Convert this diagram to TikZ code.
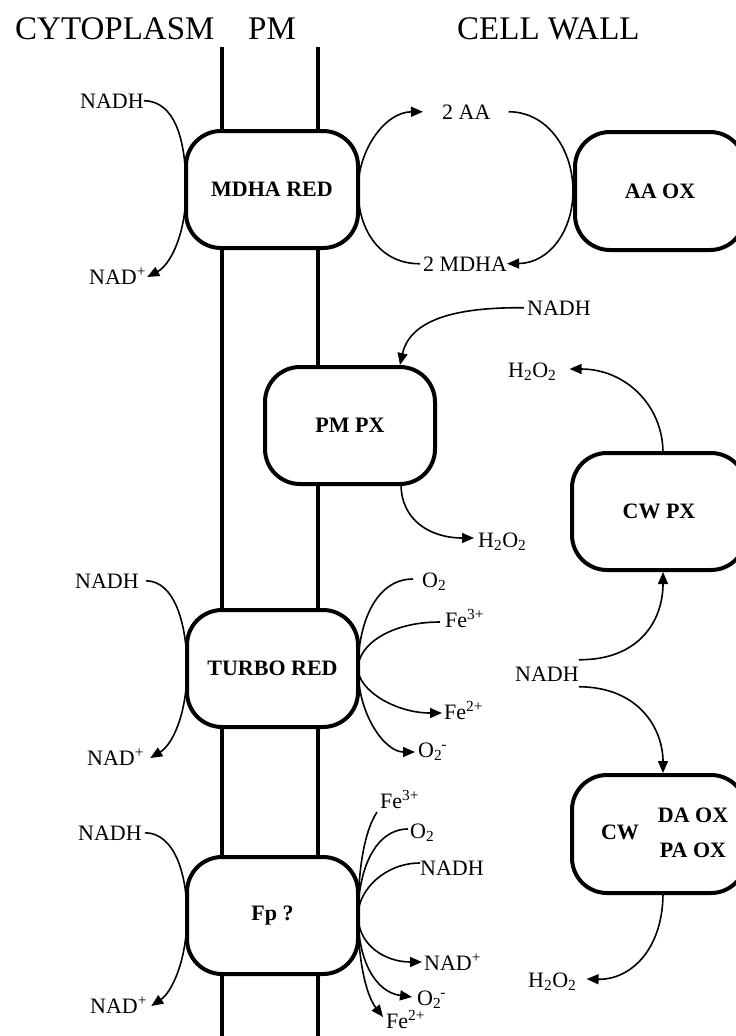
\documentclass[tikz,border=0pt]{standalone}
\usepackage{fontspec}
\setmainfont{Liberation Serif}
\usetikzlibrary{arrows.meta}
\newcommand\Hperox{H\textsubscript{2}O\textsubscript{2}}
\newcommand\Otwo{O\textsubscript{2}}
\newcommand\Osup{O\textsubscript{2}\kern-1pt\textsuperscript{-}}
\begin{document}
\begin{tikzpicture}[x=1pt,y=-1pt,
  enzyme/.style={draw, line width=4pt, rounded corners=35pt, fill=white,
    minimum width=171pt, minimum height=117pt, inner sep=0pt, outer sep=0pt,
    font=\fontsize{22}{26}\selectfont\bfseries},
  boldlab/.style={inner sep=0pt, font=\fontsize{22}{26}\selectfont\bfseries},
  lab/.style={inner sep=0pt, anchor=base west, font=\fontsize{22}{26}\selectfont},
  title/.style={inner sep=0pt, anchor=base west, font=\fontsize{33}{38}\selectfont},
  conn/.style={line width=1.6pt},
  arr/.style={conn, -{Triangle[length=12pt,width=10pt]}},
  membrane/.style={line width=4pt}]
\useasboundingbox (0,0) rectangle (736,1036);

% titles
\node[title] (cyto) at (15,39) {CYTOPLASM};
\node[title] (pm) at (248,39) {PM};
\node[title] (cwall) at (457,39) {CELL WALL};

% membrane
\coordinate (m1t) at (222,47);
\coordinate (m1b) at (222,1040);
\coordinate (m2t) at (318,47);
\coordinate (m2b) at (318,1040);
\draw[membrane] (m1t) -- (m1b);
\draw[membrane] (m2t) -- (m2b);

% enzymes
\node[enzyme, minimum width=172pt] (mdha) at (272,189.5) {MDHA RED};
\node[enzyme, minimum width=170pt, minimum height=118pt] (aaox) at (660,191) {AA OX};
\node[enzyme, minimum width=170pt] (pmpx) at (350,425.5) {PM PX};
\node[enzyme, minimum width=174pt] (cwpx) at (659,511.5) {CW PX};
\node[enzyme] (turbo) at (272.5,668.5) {TURBO RED};
\node[enzyme] (fp) at (272.5,915.5) {Fp ?};
\node[enzyme, minimum width=174pt, minimum height=118pt] (cw) at (659,834) {};
\node[boldlab] (cwl) at (620,832) {CW};
\node[boldlab] (daox) at (693,815) {DA OX};
\node[boldlab] (paox) at (693,850) {PA OX};

% labels: MDHA RED
\node[lab] (nadhA) at (80,108) {NADH};
\node[lab] (nadA) at (89,284) {NAD\textsuperscript{+}};
\node[lab] (aa) at (442,119) {2 AA};
\node[lab] (mdhaT) at (423,271) {2 MDHA};

\draw[arr] (nadhA.east) .. controls (175,101) and (186,140) .. (mdha.west)
  .. controls (186,235) and (170,265) .. ([xshift=1pt,yshift=7pt]nadA.base east);
\draw[arr] ([xshift=-3pt]mdhaT.west) .. controls (380,264) and (358,230) .. (mdha.east)
  .. controls (358,150) and (385,112) .. ([xshift=-19pt]aa.west);
\draw[arr] ([xshift=18pt]aa.east) .. controls (548,112) and (573,150) .. ([xshift=-2pt]aaox.west)
  .. controls (573,230) and (550,263) .. (mdhaT.east);

% PM PX
\node[lab] (nadhB) at (527,315) {NADH};
\node[lab] (h2o2A) at (478,547) {\Hperox};
\draw[arr] ([xshift=-3pt]nadhB.west) .. controls (455,307) and (410,320) .. ([xshift=50pt,yshift=2pt]pmpx.north);
\draw[arr] ([xshift=51pt]pmpx.south) .. controls (401,520) and (430,538) .. ([xshift=-4pt,yshift=9pt]h2o2A.base west);

% CW PX
\node[lab] (h2o2B) at (508,377) {\Hperox};
\node[lab] (nadhC) at (515,681) {NADH};
\draw[arr] ([xshift=4pt]cwpx.north) .. controls (663,405) and (625,369) .. ([xshift=13pt,yshift=8pt]h2o2B.base east);
\draw[arr] ([yshift=14pt]nadhC.east) .. controls (640,660) and (663,620) .. ([xshift=4pt,yshift=-2pt]cwpx.south);
\draw[arr] ([yshift=-13pt]nadhC.east) .. controls (640,687) and (663,730) .. ([xshift=4pt,yshift=2pt]cw.north);

% CW DA/PA OX
\node[lab] (h2o2C) at (528,987) {\Hperox};
\draw[arr] ([xshift=4pt]cw.south) .. controls (663,950) and (630,980) .. ([xshift=10pt,yshift=8pt]h2o2C.base east);

% TURBO RED
\node[lab] (nadhD) at (75,588) {NADH};
\node[lab] (nadD) at (87,765) {NAD\textsuperscript{+}};
\node[lab] (o2T) at (422,587) {\Otwo};
\node[lab] (fe3T) at (445,627) {Fe\textsuperscript{3+}};
\node[lab] (fe2T) at (444,719) {Fe\textsuperscript{2+}};
\node[lab] (o2mT) at (418,757) {\Osup};
\draw[arr] ([xshift=7pt]nadhD.east) .. controls (175,581) and (187,625) .. (turbo.west)
  .. controls (187,715) and (172,745) .. ([xshift=6pt,yshift=7pt]nadD.base east);
\draw[arr] ([xshift=-9pt,yshift=8pt]o2T.base west) .. controls (375,579) and (358,625) .. (turbo.east)
  .. controls (358,715) and (385,752) .. ([xshift=-3pt,yshift=5pt]o2mT.base west);
\draw[arr] ([xshift=-5pt,yshift=5pt]fe3T.base west) .. controls (390,622) and (358,645) .. (turbo.east)
  .. controls (358,690) and (395,713) .. ([xshift=-2pt,yshift=6pt]fe2T.base west);

% Fp ?
\node[lab] (nadhE) at (78,840) {NADH};
\node[lab] (nadE) at (90,1013) {NAD\textsuperscript{+}};
\node[lab] (fe3F) at (380,808) {Fe\textsuperscript{3+}};
\node[lab] (o2F) at (410,838) {\Otwo};
\node[lab] (nadhF) at (420,875) {NADH};
\node[lab] (nadF) at (424,970) {NAD\textsuperscript{+}};
\node[lab] (o2mF) at (417,1005) {\Osup};
\node[lab] (fe2F) at (386,1028) {Fe\textsuperscript{2+}};
\draw[arr] ([xshift=3pt]nadhE.east) .. controls (175,833) and (187,875) .. (fp.west)
  .. controls (187,960) and (172,992) .. ([xshift=4pt,yshift=7pt]nadE.base east);
\draw[arr] ([xshift=-3pt,yshift=-4pt]fe3F.base west) .. controls (362,835) and (358,880) .. (fp.east)
  .. controls (358,960) and (366,995) .. ([xshift=-3pt,yshift=11pt]fe2F.base west);
\draw[arr] ([xshift=-2pt,yshift=9pt]o2F.base west) .. controls (375,829) and (358,870) .. (fp.east)
  .. controls (358,960) and (375,992) .. ([xshift=-5pt,yshift=8pt]o2mF.base west);
\draw[arr] ([yshift=12pt]nadhF.base west) .. controls (385,863) and (358,890) .. (fp.east)
  .. controls (358,945) and (385,962) .. ([xshift=-2pt,yshift=8pt]nadF.base west);
\end{tikzpicture}
\end{document}
